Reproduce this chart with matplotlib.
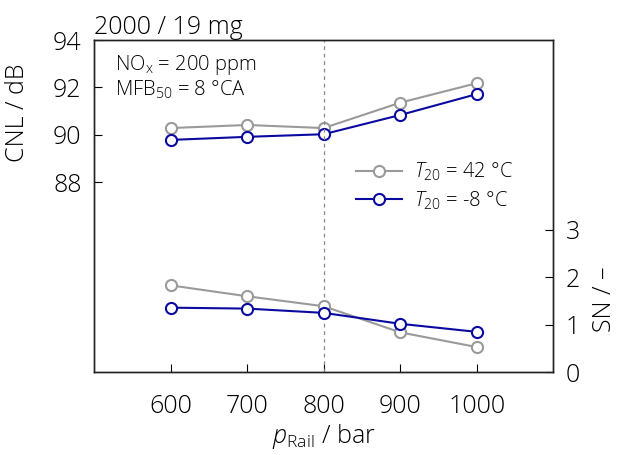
import matplotlib
matplotlib.use("Agg")
import matplotlib.pyplot as plt

plt.rcParams["font.family"] = ["Open Sans", "DejaVu Sans"]
plt.rcParams["font.weight"] = "light"
plt.rcParams["axes.titleweight"] = "light"
plt.rcParams["axes.labelweight"] = "light"
plt.rcParams["mathtext.fontset"] = "custom"
plt.rcParams["mathtext.rm"] = "Open Sans:light"
plt.rcParams["mathtext.it"] = "Open Sans:italic:light"

p_rail = [600, 700, 800, 900, 1000]
cnl_42 = [90.29, 90.42, 90.29, 91.36, 92.18]
cnl_m8 = [89.79, 89.92, 90.03, 90.84, 91.72]
sn_42 = [1.83, 1.60, 1.39, 0.84, 0.53]
sn_m8 = [1.36, 1.34, 1.25, 1.02, 0.85]

GREY = "#9a9a9a"
BLUE = "#0a0aa0"
FS = 18

fig = plt.figure(figsize=(6.23, 4.55), dpi=100)
ax = fig.add_axes([0.151, 0.182, 0.737, 0.730])
ax2 = ax.twinx()

mk = dict(marker="o", markersize=8, markerfacecolor="white", markeredgewidth=1.5, linewidth=1.5)
ax.plot(p_rail, cnl_42, color=GREY, label=r"$T_{20}$ = 42 °C", **mk)
ax.plot(p_rail, cnl_m8, color=BLUE, label=r"$T_{20}$ = -8 °C", **mk)
ax2.plot(p_rail, sn_42, color=GREY, **mk)
ax2.plot(p_rail, sn_m8, color=BLUE, **mk)

ax.axvline(800, color="#888888", linestyle=(0, (3, 3)), linewidth=0.9)

ax.set_xlim(500, 1100)
ax.set_ylim(80, 94)
ax2.set_ylim(0, 7)
ax.set_xticks(p_rail)
ax.set_yticks([88, 90, 92, 94])
ax2.set_yticks([0, 1, 2, 3])

for a in (ax, ax2):
    for s in a.spines.values():
        s.set_linewidth(1.0)
        s.set_color("#222222")
ax.tick_params(axis="x", direction="in", length=6, pad=16, labelsize=FS)
ax.tick_params(axis="y", direction="in", length=6, pad=9, labelsize=FS)
ax2.tick_params(axis="y", direction="in", length=6, pad=9, labelsize=FS)

ax.set_xlabel(r"$p_{\mathrm{Rail}}$ / bar", fontsize=FS, labelpad=2)
ax.set_ylabel("CNL / dB", fontsize=FS)
ax.yaxis.set_label_coords(-0.14, 0.78)
ax2.set_ylabel("SN / –", fontsize=FS)
ax2.yaxis.set_label_coords(1.085, 0.22)

ax.set_title("2000 / 19 mg", loc="left", fontsize=FS, pad=3)

ax.text(0.045, 0.96, r"NO$_\mathrm{x}$ = 200 ppm", transform=ax.transAxes,
        fontsize=14.5, va="top")
ax.text(0.045, 0.885, r"MFB$_{50}$ = 8 °CA", transform=ax.transAxes,
        fontsize=14.5, va="top")

ax.legend(loc="upper left", bbox_to_anchor=(0.53, 0.69), frameon=False,
          fontsize=14.5, handlelength=2.3, handletextpad=0.6, labelspacing=0.3)

fig.savefig("out.png", dpi=100)
